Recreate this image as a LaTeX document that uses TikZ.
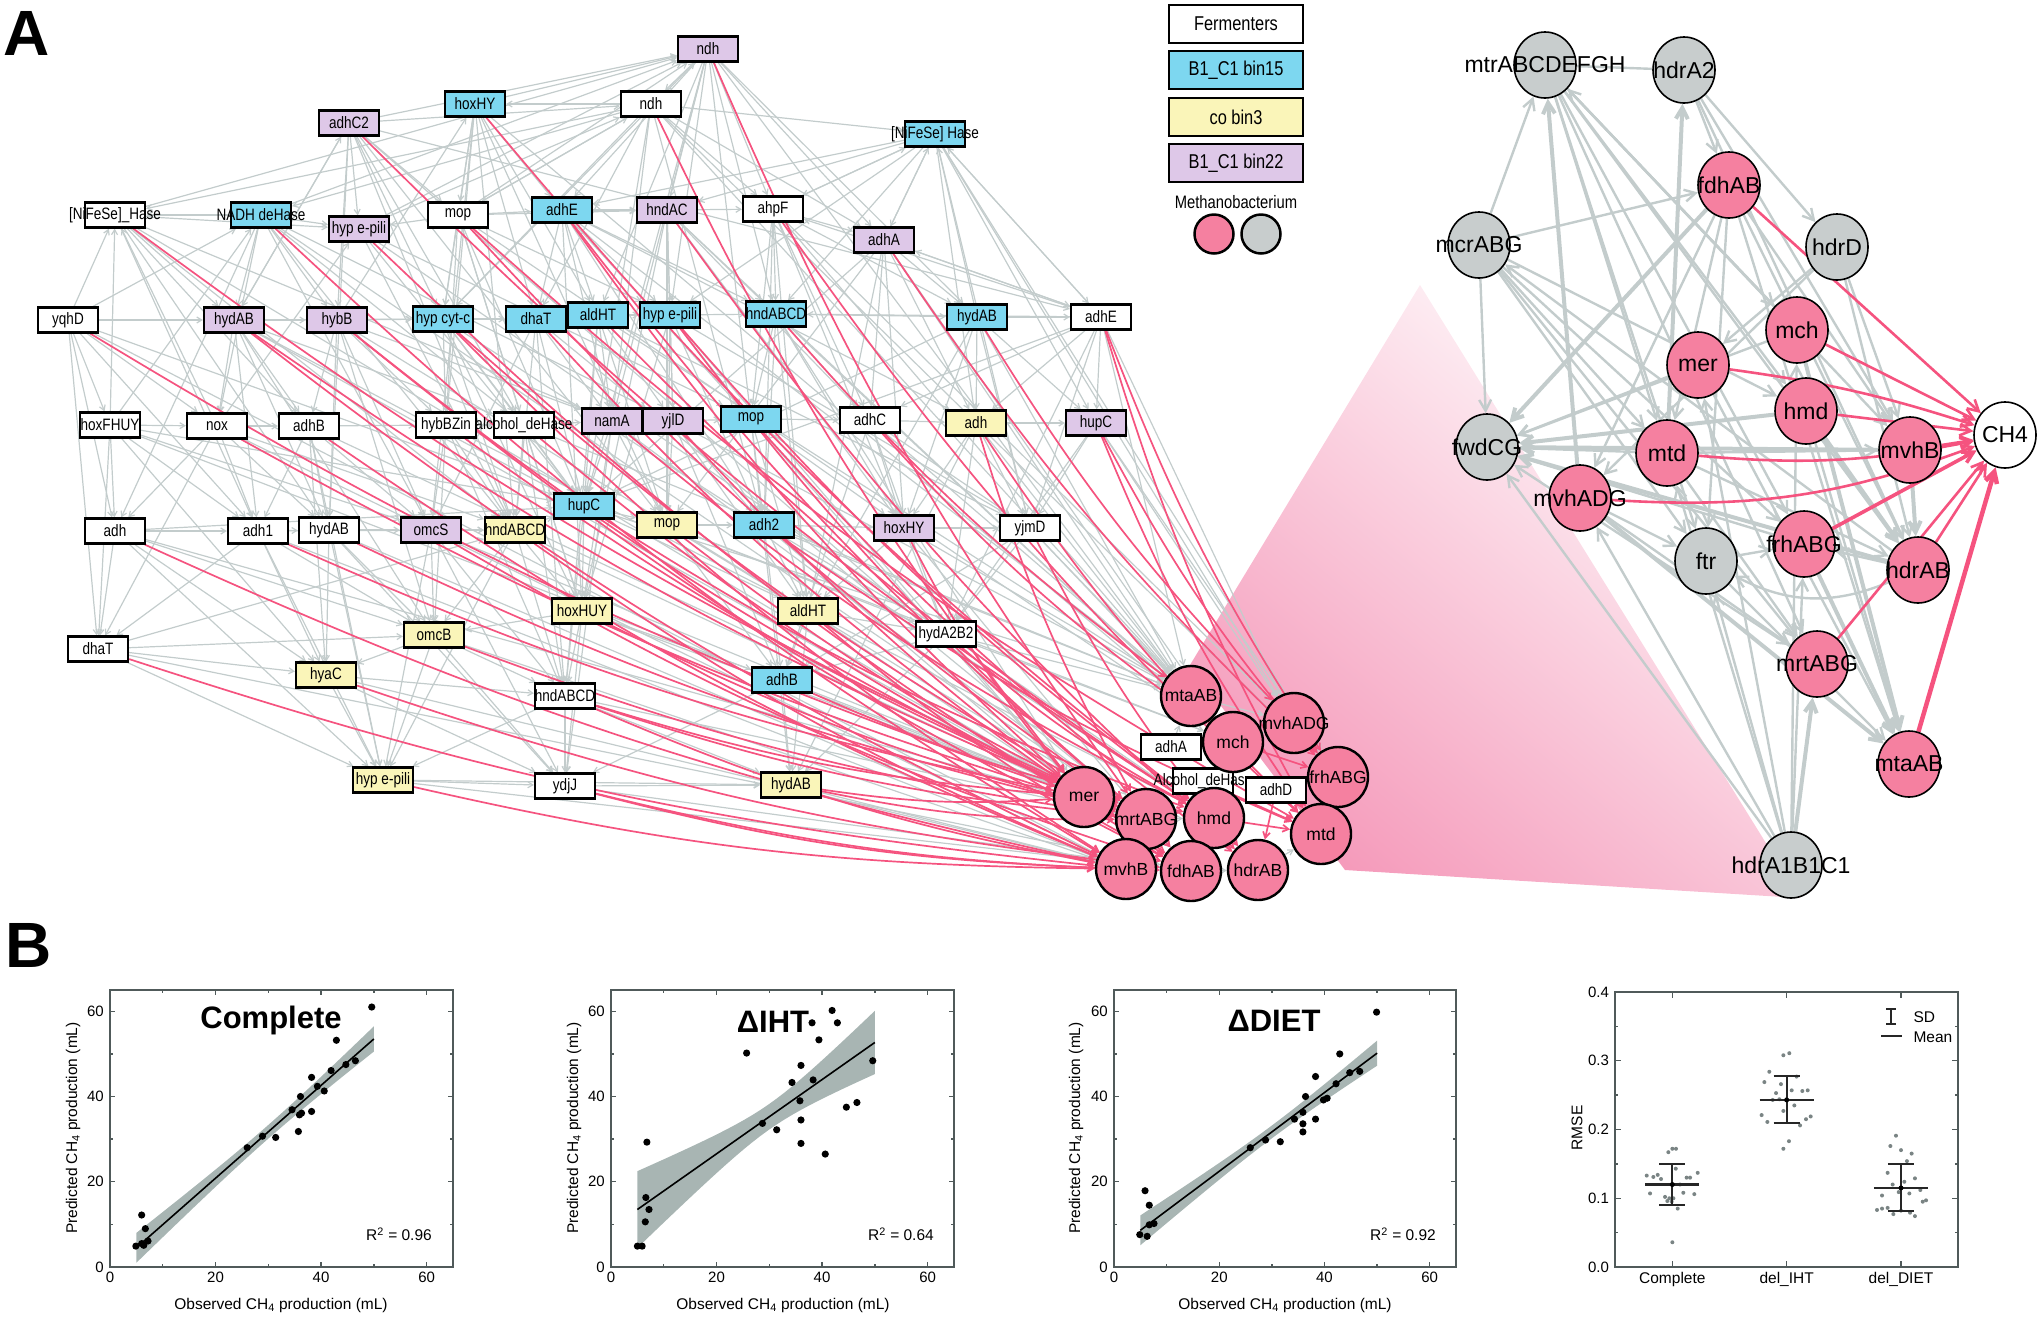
\documentclass[tikz,border=0pt]{standalone}
\usepackage{fontspec}
\setmainfont{Liberation Sans}
\newfontfamily\nsans{Liberation Sans}[FakeStretch=0.82]
\usetikzlibrary{arrows.meta,shapes.geometric}
\definecolor{cblue}{HTML}{7DD7F0}
\definecolor{cyel}{HTML}{FAF5B9}
\definecolor{cpur}{HTML}{DEC8E8}
\definecolor{cpink}{HTML}{F580A0}
\definecolor{cgrey}{HTML}{C8CDCD}
\definecolor{cgedge}{HTML}{C3CCCC}
\definecolor{cpedge}{HTML}{F5537F}
\definecolor{cband}{HTML}{A8B5B3}
\definecolor{cframe}{HTML}{505A5A}
\definecolor{cfan}{HTML}{F59BBB}
\definecolor{cdot}{HTML}{7A8484}
\newcommand{\zb}[1]{\makebox[0pt]{#1}}
\newcommand{\boxft}{\nsans\fontsize{16.5}{18}\selectfont}
\newcommand{\lcft}{\fontsize{17.5}{19}\selectfont}
\newcommand{\rcft}{\fontsize{23}{25}\selectfont}
\newcommand{\legft}{\nsans\fontsize{20}{22}\selectfont}
\newcommand{\tickft}{\fontsize{15}{17}\selectfont}
\newcommand{\axft}{\fontsize{15.5}{17}\selectfont}
\newcommand{\ttlft}{\bfseries\fontsize{31}{33}\selectfont}
\pgfdeclarelayer{fanlayer}
\pgfdeclarelayer{edgelayer}
\pgfsetlayers{fanlayer,edgelayer,main}
\tikzset{
 fbx/.style={draw=black, line width=2.2pt, minimum width=60pt, minimum height=25pt, inner sep=0pt, font=\boxft},
 bw/.style={fbx, fill=white}, bb/.style={fbx, fill=cblue}, by/.style={fbx, fill=cyel}, bp/.style={fbx, fill=cpur},
 lc/.style={circle, draw=black, line width=2.4pt, minimum size=60pt, inner sep=0pt, fill=cpink, font=\lcft},
 rcn/.style={ellipse, draw=black, line width=1.6pt, minimum width=62pt, minimum height=66pt, inner sep=0pt, font=\rcft},
 rp/.style={rcn, fill=cpink}, rg/.style={rcn, fill=cgrey}, rw/.style={rcn, fill=white},
 ge/.style={draw=cgedge, line width=1.2pt, -{Straight Barb[length=5pt,width=6pt]}},
 pe/.style={draw=cpedge, line width=1.7pt, -{Straight Barb[length=6pt,width=7pt]}},
 rge/.style={draw=cgedge, line width=2.4pt, -{Straight Barb[length=11pt,width=12pt]}},
 rgt/.style={rge, line width=4pt},
 rpe/.style={draw=cpedge, line width=2.6pt, -{Straight Barb[length=11pt,width=12pt]}},
 plotframe/.style={draw=cframe, line width=1.4pt},
 ticklab/.style={font=\tickft, inner sep=1pt},
 legbox/.style={draw=black, line width=2.5pt, minimum width=134pt, minimum height=38pt, inner sep=0pt, font=\legft},
}
\newcommand{\drawscframe}[1]{%
 \draw[plotframe] (0,0) rectangle (65,65);
 \foreach \t in {0,20,40,60} {
   \draw[plotframe] (\t,0) -- ++(0,5pt); \draw[plotframe] (\t,65) -- ++(0,-5pt);
   \draw[plotframe] (0,\t) -- ++(5pt,0); \draw[plotframe] (65,\t) -- ++(-5pt,0);
   \node[ticklab, anchor=north] (#1x\t) at ([yshift=-4pt]\t,0) {\t};
   \node[ticklab, anchor=east] (#1y\t) at ([xshift=-5pt]0,\t) {\t};
 }
 \foreach \t in {10,30,50} {
   \draw[plotframe] (\t,0) -- ++(0,3pt); \draw[plotframe] (\t,65) -- ++(0,-3pt);
   \draw[plotframe] (0,\t) -- ++(3pt,0); \draw[plotframe] (65,\t) -- ++(-3pt,0);
 }
}
\begin{document}
\begin{tikzpicture}[x=1pt,y=-1pt]
\useasboundingbox (0,0) rectangle (2043,1318);

% panel labels
\node[font=\bfseries\fontsize{64}{64}\selectfont] (labA) at (27,33) {A};
\node[font=\bfseries\fontsize{64}{64}\selectfont] (labB) at (29,945) {B};

% legend
\node[legbox, fill=white] (leg1) at (1236,24) {Fermenters};
\node[legbox, fill=cblue] (leg2) at (1236,70) {B1\_C1 bin15};
\node[legbox, fill=cyel] (leg3) at (1236,117) {co bin3};
\node[legbox, fill=cpur] (leg4) at (1236,163) {B1\_C1 bin22};
\node[font=\nsans\fontsize{18}{20}\selectfont] (legt) at (1236,202) {Methanobacterium};
\node[circle, draw=black, line width=2.5pt, fill=cpink, minimum size=39pt, inner sep=0pt] (legc1) at (1214,234) {};
\node[circle, draw=black, line width=2.5pt, fill=cgrey, minimum size=39pt, inner sep=0pt] (legc2) at (1261,234) {};

% fan
\begin{pgfonlayer}{fanlayer}
\shade[top color=white, bottom color=cfan, shading angle=-40] (1420,285) -- (1190,665) -- (1345,870) -- (1800,898) -- cycle;
\end{pgfonlayer}

% left network boxes
\node[bp] (f1) at (708,49) {\zb{ndh}};
\node[bb] (f2) at (475,104) {\zb{hoxHY}};
\node[bw] (f3) at (651,104) {\zb{ndh}};
\node[bp] (f4) at (349,123) {\zb{adhC2}};
\node[bb] (f5) at (935,134) {\zb{[NiFeSe] Hase}};
\node[bw] (f6) at (115,215) {\zb{[NiFeSe]\_Hase}};
\node[bb] (f7) at (261,215) {\zb{NADH deHase}};
\node[bp] (f8) at (359,229) {\zb{hyp e-pili}};
\node[bw] (f9) at (458,215) {\zb{mop}};
\node[bb] (f10) at (562,210) {\zb{adhE}};
\node[bp] (f11) at (667,210) {\zb{hndAC}};
\node[bw] (f12) at (773,209) {\zb{ahpF}};
\node[bp] (f13) at (884,240) {\zb{adhA}};
\node[bw] (f14) at (68,320) {\zb{yqhD}};
\node[bp] (f15) at (234,320) {\zb{hydAB}};
\node[bp] (f16) at (337,320) {\zb{hybB}};
\node[bb] (f17) at (443,319) {\zb{hyp cyt-c}};
\node[bb] (f18) at (536,319) {\zb{dhaT}};
\node[bb] (f19) at (598,315) {\zb{aldHT}};
\node[bb] (f20) at (670,315) {\zb{hyp e-pili}};
\node[bb] (f21) at (776,314) {\zb{hndABCD}};
\node[bb] (f22) at (977,317) {\zb{hydAB}};
\node[bw] (f23) at (1101,317) {\zb{adhE}};
\node[bw] (f24) at (110,425) {\zb{hoxFHUY}};
\node[bw] (f25) at (217,426) {\zb{nox}};
\node[bw] (f26) at (309,426) {\zb{adhB}};
\node[bw] (f27) at (446,425) {\zb{hybBZin}};
\node[bw] (f28) at (524,425) {\zb{alcohol\_deHase}};
\node[bp] (f29) at (612,421) {\zb{namA}};
\node[bp] (f30) at (673,421) {\zb{yjlD}};
\node[bb] (f31) at (751,419) {\zb{mop}};
\node[bw] (f32) at (870,420) {\zb{adhC}};
\node[by] (f33) at (976,423) {\zb{adh}};
\node[bp] (f34) at (1096,423) {\zb{hupC}};
\node[bw] (f35) at (115,531) {\zb{adh}};
\node[bw] (f36) at (258,531) {\zb{adh1}};
\node[bw] (f37) at (329,530) {\zb{hydAB}};
\node[bp] (f38) at (431,530) {\zb{omcS}};
\node[by] (f39) at (515,530) {\zb{hndABCD}};
\node[bb] (f40) at (584,506) {\zb{hupC}};
\node[by] (f41) at (667,525) {\zb{mop}};
\node[bb] (f42) at (764,525) {\zb{adh2}};
\node[bp] (f43) at (904,528) {\zb{hoxHY}};
\node[bw] (f44) at (1030,528) {\zb{yjmD}};
\node[by] (f45) at (582,611) {\zb{hoxHUY}};
\node[by] (f46) at (808,611) {\zb{aldHT}};
\node[bw] (f47) at (98,649) {\zb{dhaT}};
\node[by] (f48) at (434,635) {\zb{omcB}};
\node[bw] (f49) at (946,634) {\zb{hydA2B2}};
\node[by] (f50) at (326,675) {\zb{hyaC}};
\node[bw] (f51) at (565,696) {\zb{hndABCD}};
\node[bb] (f52) at (782,680) {\zb{adhB}};
\node[by] (f53) at (383,780) {\zb{hyp e-pili}};
\node[bw] (f54) at (565,786) {\zb{ydjJ}};
\node[by] (f55) at (791,785) {\zb{hydAB}};
\node[bw] (f56) at (1171,747) {\zb{adhA}};
\node[bw] (f57) at (1203,781) {\zb{Alcohol\_deHase}};
\node[bw] (f58) at (1276,790) {\zb{adhD}};

% left cluster circles
\node[lc] (m1) at (1191,696) {\zb{mtaAB}};
\node[lc] (m2) at (1294,723) {\zb{mvhADG}};
\node[lc] (m3) at (1233,742) {\zb{mch}};
\node[lc] (m4) at (1338,777) {\zb{frhABG}};
\node[lc] (m5) at (1084,797) {\zb{mer}};
\node[lc] (m6) at (1146,819) {\zb{mrtABG}};
\node[lc] (m7) at (1214,818) {\zb{hmd}};
\node[lc] (m8) at (1321,834) {\zb{mtd}};
\node[lc] (m9) at (1126,869) {\zb{mvhB}};
\node[lc] (m10) at (1191,871) {\zb{fdhAB}};
\node[lc] (m11) at (1258,870) {\zb{hdrAB}};

% right network
\node[rg] (r1) at (1545,65) {\zb{mtrABCDEFGH}};
\node[rg] (r2) at (1684,70) {\zb{hdrA2}};
\node[rp] (r3) at (1729,185) {\zb{fdhAB}};
\node[rg] (r4) at (1479,245) {\zb{mcrABG}};
\node[rg] (r5) at (1837,247) {\zb{hdrD}};
\node[rp] (r6) at (1797,330) {\zb{mch}};
\node[rp] (r7) at (1698,365) {\zb{mer}};
\node[rp] (r8) at (1806,411) {\zb{hmd}};
\node[rw] (r9) at (2005,435) {\zb{CH4}};
\node[rp] (r10) at (1910,450) {\zb{mvhB}};
\node[rp] (r11) at (1667,453) {\zb{mtd}};
\node[rg] (r12) at (1487,447) {\zb{fwdCG}};
\node[rp] (r13) at (1580,498) {\zb{mvhADG}};
\node[rg] (r14) at (1706,561) {\zb{ftr}};
\node[rp] (r15) at (1804,544) {\zb{frhABG}};
\node[rp] (r16) at (1918,570) {\zb{hdrAB}};
\node[rp] (r17) at (1817,664) {\zb{mrtABG}};
\node[rp] (r18) at (1909,764) {\zb{mtaAB}};
\node[rg] (r19) at (1791,865) {\zb{hdrA1B1C1}};

\begin{pgfonlayer}{edgelayer}
% grey edges among fermenters
\foreach \a/\b in {1/3,1/10,1/11,1/13,1/19,1/20,1/12,1/22,1/21,7/1,6/1,9/1,17/1,
 3/2,3/5,3/6,3/7,3/17,3/18,3/9,3/12,3/29,3/13,
 2/9,2/17,2/18,2/10,2/27,2/19,
 4/8,4/16,4/9,4/15,4/23,4/17,4/28,
 5/12,5/11,5/21,5/23,5/10,5/13,5/20,22/5,
 14/6,24/6,25/6,6/26,6/8,6/15,
 7/6,7/8,7/15,7/25,7/16,7/35,7/28,
 9/8,9/10,9/11,9/17,9/27,9/28,9/20,
 10/11,10/19,10/18,10/20,10/31,10/29,10/33,10/21,
 11/12,11/21,11/30,11/20,11/32,11/41,
 12/13,12/21,12/31,12/32,12/22,12/42,
 13/23,13/22,13/33,13/32,13/41,13/43,
 14/15,14/24,14/25,14/35,14/36,
 15/16,15/26,15/25,15/36,15/17,15/37,
 16/17,16/27,16/26,16/38,16/37,
 17/18,17/28,17/27,17/40,17/39,
 18/19,18/29,18/40,18/39,18/38,
 19/20,19/30,19/40,19/29,19/41,
 20/21,20/31,20/30,20/41,20/42,
 21/22,21/31,21/32,21/42,21/43,
 22/23,22/33,22/34,22/43,22/44,
 23/34,23/44,23/33,23/13,23/21,23/32,23/12,
 24/25,24/35,24/36,24/47,
 25/26,25/36,25/35,25/37,25/47,
 26/27,26/37,26/36,26/38,26/50,
 27/28,27/38,27/39,27/48,
 28/29,28/39,28/40,28/45,
 29/30,29/40,29/41,29/45,
 30/31,30/41,30/42,30/46,
 31/32,31/42,31/43,31/46,
 32/33,32/43,32/44,32/49,
 33/34,33/44,33/49,33/43,
 34/44,34/49,
 35/36,35/47,35/48,35/50,
 36/37,36/47,36/50,36/48,
 37/38,37/50,37/48,37/53,
 38/39,38/48,38/53,38/51,
 39/40,39/45,39/51,39/53,39/48,
 40/41,40/45,40/46,40/51,
 41/42,41/46,41/49,41/52,
 42/43,42/46,42/52,42/49,
 43/44,43/49,43/46,
 44/49,44/52,
 45/48,45/51,45/54,45/52,
 46/49,46/52,46/55,
 47/48,47/50,47/53,
 48/50,48/51,48/53,48/54,
 49/52,49/55,
 50/53,50/51,50/54,
 51/54,51/53,51/55,
 52/55,52/54,
 53/54,53/55,54/55,
 1/29,1/31,1/40,2/38,2/39,3/40,4/37,4/39,6/36,6/37,7/38,7/39,8/40,8/39,9/40,9/45,10/45,11/45,
 12/46,13/46,14/47,15/48,16/48,17/45,18/51,19/51,20/45,21/46,22/46,23/49,24/50,26/53,27/51,28/51,
 29/54,30/52,31/55,32/52,33/55,35/53,36/53,37/54,38/54,5/33,5/34,5/44,23/5,13/5,12/5,2/1,4/1,8/1,
 9/3,4/3,8/3,16/2,15/4,14/7,24/7,25/8,13/40,22/40,23/40,15/40,14/40,24/40,35/40,36/39,47/39,6/39,
 4/41,2/41,10/42,11/43,12/43,3/42,20/44,19/44,6/29,15/28,16/29,7/30,8/31,24/38,25/39}
 \draw[ge] (f\a) -- (f\b);
% grey edges to the methanogen cluster
\foreach \a/\b in {f23/m2,f23/m1,f34/m4,f34/m2,f44/m3,f44/m1,f33/m1,f32/m1,f43/m1,f49/m1,f49/m3,
 f46/m5,f52/m6,f55/m9,f54/m10,f51/m6,f45/m5,f42/m1,f41/m3,f22/m1,f13/m1,f21/m3,f40/m1,
 f39/m5,f20/m5,f48/m9,f31/m5,f30/m1,f29/m6,f19/m1,f12/m2,f11/m3,f10/m1,f18/m6,f28/m1,f38/m5,f37/m9,
 f1/m1,f2/m3,f3/m1,f4/m6,f5/m2,f6/m5,f7/m6,f8/m7,f9/m3,f14/m9,f15/m5,f16/m6,f17/m7,f24/m5,f25/m9,
 f26/m6,f27/m7,f35/m6,f36/m9,f47/m10,f50/m9,f53/m10,f5/m4,f13/m3,f12/m1,f3/m4,f21/m5,f42/m5,f43/m6,
 m1/m3,m5/m6,m6/m9,m7/m10,m3/m7,m2/m4,m4/m8,m10/m11,m6/m7,m9/m10,f56/m3,f57/m7,m1/m2,m3/m2,
 m11/m8,m6/m10,m7/m11,f56/m1,f58/m4}
 \draw[ge] (\a) -- (\b);
% pink edges
\foreach \a/\b in {f1/m6,f2/m7,f3/m5,f4/m7,f6/m6,f7/m9,f8/m10,f9/m8,f10/m6,f11/m11,f12/m8,f13/m4,
 f14/m5,f15/m9,f16/m10,f17/m6,f18/m5,f19/m7,f20/m6,f21/m1,f22/m2,f23/m8,f23/m4,f25/m6,f26/m9,
 f27/m6,f28/m5,f29/m7,f30/m10,f31/m11,f32/m3,f33/m6,f33/m8,f34/m8,f34/m4,f35/m9,f36/m5,f37/m6,
 f38/m10,f39/m9,f40/m7,f41/m6,f42/m8,f43/m5,f44/m11,f45/m6,f46/m10,f47/m9,f48/m6,f49/m7,f50/m10,
 f51/m5,f51/m6,f51/m9,f52/m7,f53/m9,f54/m9,f54/m10,f55/m5,f55/m6,f10/m5,f17/m9,f15/m6,f16/m5,
 f20/m7,f9/m6}
 \draw[pe] (\a) to[bend right=6] (\b);
\foreach \a/\b in {m7/m8,m5/m6,m3/m4,f57/m8,f58/m11,m6/m10}
 \draw[pe] (\a) -- (\b);

% right network grey edges
\draw[cgedge, line width=2.4pt] (r1) -- (r2);
\foreach \a/\b in {4/1,2/3,4/12,4/3,1/11,1/14,1/15,1/8,1/6,1/17,2/5,2/10,2/16,4/8,4/11,4/14,4/15,4/17,
 16/4,3/11,3/14,3/13,3/18,5/7,5/13,6/12,7/12,11/12,15/12,17/12,19/12,19/13,19/14,19/11,19/7,19/15,19/6,
 14/15,16/15,13/14,13/17,5/16,5/10,11/10,11/16,3/16,3/10,1/16,1/10,6/1,7/18,8/18,14/18,11/17}
 \draw[rge] (r\a) -- (r\b);
\foreach \a/\b in {3/12,13/1,11/2,8/12,10/12,16/12,19/17,13/18,15/18,6/18,8/16,10/16}
 \draw[rgt] (r\a) -- (r\b);
\draw[rge] (r16) to[bend left=25] (r14);
% right network pink edges to CH4
\draw[rpe] (r3) -- (r9);
\draw[rpe] (r6) -- (r9);
\draw[rpe] (r7) to[bend left=5] (r9);
\draw[rpe] (r8) -- (r9);
\draw[rpe] (r10) -- (r9);
\draw[rpe] (r11) to[bend right=8] (r9);
\draw[rpe] (r13) to[bend right=12] (r9);
\draw[rpe, line width=3.6pt] (r15) -- (r9);
\draw[rpe] (r16) -- (r9);
\draw[rpe] (r17) -- (r9);
\draw[rpe, line width=4.5pt] (r18) -- (r9);
\end{pgfonlayer}

% ===== panel B =====
% plot 1
\begin{scope}[shift={(110,1267)}, x=5.277pt, y=4.262pt]
\fill[cband] plot[domain=5:50,samples=30] (\x,{-0.94+1.089*\x+sqrt(2.56+0.0155*(\x-30)*(\x-30))}) -- plot[domain=50:5,samples=30] (\x,{-0.94+1.089*\x-sqrt(2.56+0.0155*(\x-30)*(\x-30))}) -- cycle;
\draw[line width=1.6pt] (5,{-0.94+1.089*5}) -- (50,{-0.94+1.089*50});
\foreach \px/\py in {4.9/4.9,6.0/12.2,6.7/9.0,7.2/6.1,6.4/5.1,6.0/5.5,26/28,28.9/30.7,31.4/30.4,34.5/36.9,35.9/35.7,35.7/31.8,36.1/40,36.3/36.1,38.2/36.5,38.2/44.5,39.3/42.4,40.6/41.3,41.9/46.1,42.9/53.2,44.7/47.5,46.5/48.4,49.6/61}
 \fill (\px,\py) circle[radius=3.6pt];
\drawscframe{pa}
\end{scope}
\node[font=\ttlft] (t1) at (271,1020) {Complete};
\node[font=\axft] (r2a) at (399,1234) {R\textsuperscript{2} = 0.96};
\node[font=\axft, rotate=90] (yl1) at (73,1128) {Predicted CH\textsubscript{4} production (mL)};
\node[font=\axft] (xl1) at (281,1305) {Observed CH\textsubscript{4} production (mL)};

% plot 2
\begin{scope}[shift={(611,1267)}, x=5.277pt, y=4.262pt]
\fill[cband] plot[domain=5:50,samples=30] (\x,{9.14+0.871*\x+sqrt(9+0.1152*(\x-30)*(\x-30))}) -- plot[domain=50:5,samples=30] (\x,{9.14+0.871*\x-sqrt(9+0.1152*(\x-30)*(\x-30))}) -- cycle;
\draw[line width=1.6pt] (5,{9.14+0.871*5}) -- (50,{9.14+0.871*50});
\foreach \px/\py in {5/4.9,5.9/4.9,6.5/10.6,6.6/16.3,7.2/13.5,6.8/29.3,25.7/50.2,28.7/33.7,31.4/32.2,34.3/43.3,35.8/39.0,36/47.3,36/34.5,36/29,38.1/57.3,38.3/43.9,39.4/53.3,40.6/26.5,41.9/60.2,42.9/57.3,44.6/37.5,46.6/38.6,49.6/48.4}
 \fill (\px,\py) circle[radius=3.6pt];
\drawscframe{pb}
\end{scope}
\node[font=\ttlft] (t2) at (773,1022) {ΔIHT};
\node[font=\axft] (r2b) at (901,1234) {R\textsuperscript{2} = 0.64};
\node[font=\axft, rotate=90] (yl2) at (574,1128) {Predicted CH\textsubscript{4} production (mL)};
\node[font=\axft] (xl2) at (783,1305) {Observed CH\textsubscript{4} production (mL)};

% plot 3
\begin{scope}[shift={(1114,1267)}, x=5.262pt, y=4.262pt]
\fill[cband] plot[domain=5:50,samples=30] (\x,{3.98+0.924*\x+sqrt(2.25+0.016*(\x-30)*(\x-30))}) -- plot[domain=50:5,samples=30] (\x,{3.98+0.924*\x-sqrt(2.25+0.016*(\x-30)*(\x-30))}) -- cycle;
\draw[line width=1.6pt] (5,{3.98+0.924*5}) -- (50,{3.98+0.924*50});
\foreach \px/\py in {4.9/7.6,6.3/7.2,5.9/17.9,6.7/14.5,6.7/9.9,7.6/10.2,25.9/28,28.8/29.8,31.6/29.4,34.3/34.7,35.9/36.3,35.9/33.6,35.9/31.7,36.4/40,38.3/34.7,38.3/44.7,39.8/39.2,40.5/39.6,42.2/43.0,42.9/50.0,44.8/45.6,46.7/45.9,49.9/59.8}
 \fill (\px,\py) circle[radius=3.6pt];
\drawscframe{pc}
\end{scope}
\node[font=\ttlft] (t3) at (1274,1021) {ΔDIET};
\node[font=\axft] (r2c) at (1403,1234) {R\textsuperscript{2} = 0.92};
\node[font=\axft, rotate=90] (yl3) at (1076,1128) {Predicted CH\textsubscript{4} production (mL)};
\node[font=\axft] (xl3) at (1285,1305) {Observed CH\textsubscript{4} production (mL)};

% RMSE plot
\begin{scope}[shift={(1558,1267)}, x=114.33pt, y=687.5pt]
\draw[plotframe] (0.5,0) rectangle (3.5,0.4);
\foreach \t/\n in {0.0/0,0.1/1,0.2/2,0.3/3,0.4/4} {
  \draw[plotframe] (0.5,\t) -- ++(6pt,0); \draw[plotframe] (3.5,\t) -- ++(-6pt,0);
  \node[ticklab, anchor=east] (ry\n) at ([xshift=-5pt]0.5,\t) {\t};
}
\foreach \t in {0.05,0.15,0.25,0.35} {
  \draw[plotframe] (0.5,\t) -- ++(3pt,0); \draw[plotframe] (3.5,\t) -- ++(-3pt,0);
}
\foreach \c/\lab in {1/Complete,2/del\_IHT,3/del\_DIET} {
  \draw[plotframe] (\c,0) -- ++(0,6pt); \draw[plotframe] (\c,0.4) -- ++(0,-6pt);
  \node[ticklab, anchor=north, font=\axft] (rx\c) at ([yshift=-4pt]\c,0) {\lab};
}
\foreach \px/\py in {1/.172,1.032/.172,0.965/.167,1.03/.143,0.776/.133,0.834/.131,0.872/.134,0.901/.128,1.125/.13,1.155/.13,1.222/.137,1/.12,1.067/.12,0.805/.107,0.936/.102,0.974/.1,1.009/.1,1.096/.108,1.192/.106,0.956/.096,0.994/.095,1.047/.085,1/.036,
 1.971/.308,2.023/.311,1.848/.284,1.805/.269,1.95/.266,2.087/.277,1.907/.253,2.044/.257,2.137/.256,2.184/.257,1.878/.243,1.936/.244,2/.244,2.067/.235,1.971/.227,1.781/.221,1.831/.211,2.117/.206,2.169/.215,2.21/.219,2.02/.183,1.971/.172,
 2.956/.191,2.907/.176,3/.17,3.093/.165,3.052/.154,2.883/.137,2.927/.12,3.029/.124,3.122/.129,2.98/.109,3.073/.107,3.169/.112,3.219/.097,3.19/.095,2.834/.104,2.79/.083,2.834/.085,2.883/.086,2.933/.077,3/.082,3.079/.079,3.122/.074}
 \fill[cdot] (\px,\py) circle[radius=2pt];
\foreach \c/\lo/\mn/\hi in {1/0.09/0.12/0.15,2/0.209/0.243/0.278,3/0.081/0.115/0.15} {
  \draw[line width=1.8pt, black!85] (\c,\lo) -- (\c,\hi);
  \draw[line width=1.8pt, black!85] (\c-0.115,\lo) -- (\c+0.115,\lo);
  \draw[line width=1.8pt, black!85] (\c-0.115,\hi) -- (\c+0.115,\hi);
  \draw[line width=2.2pt, black!85] (\c-0.237,\mn) -- (\c+0.237,\mn);
  \fill (\c,\mn) circle[radius=2.5pt];
}
\end{scope}
\node[font=\axft, rotate=90] (ylr) at (1577,1128) {RMSE};
\draw[line width=1.6pt, black!85] (1891,1009) -- (1891,1024);
\draw[line width=1.6pt, black!85] (1886,1009) -- (1896,1009);
\draw[line width=1.6pt, black!85] (1886,1024) -- (1896,1024);
\node[font=\axft, anchor=west] (lsd) at (1910,1017) {SD};
\draw[line width=1.8pt, black!85] (1881,1036) -- (1902,1036);
\node[font=\axft, anchor=west] (lmean) at (1910,1037) {Mean};
\end{tikzpicture}
\end{document}
